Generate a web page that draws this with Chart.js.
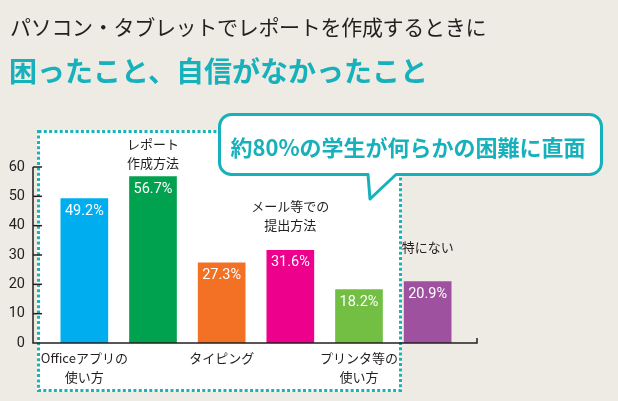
<!DOCTYPE html>
<html><head><meta charset="utf-8">
<script src="https://cdn.jsdelivr.net/npm/chart.js@4"></script>
<style>
html,body{margin:0;padding:0;background:#eeebe4;width:618px;height:401px;overflow:hidden;}
#wrap{position:relative;width:618px;height:401px;}
#c{position:absolute;left:0;top:0;}
.t1{position:absolute;left:10px;top:10px;font-family:"Noto Sans CJK JP";font-weight:400;font-size:21px;line-height:32px;letter-spacing:-0.3px;color:#231f20;white-space:nowrap;}
.t2{position:absolute;left:9px;top:50px;font-family:"Noto Sans CJK JP";font-weight:700;font-size:28px;line-height:40px;color:#17b1bb;white-space:nowrap;}
svg{position:absolute;left:0;top:0;pointer-events:none;}
</style></head>
<body><div id="wrap">
<canvas id="c" width="618" height="401"></canvas>
<div class="t1">パソコン・タブレットでレポートを作成するときに</div>
<div class="t2">困ったこと、自信がなかったこと</div>
<svg width="618" height="401">
<path d="M231.5,114.5 H589.5 A12,12 0 0 1 601.5,126.5 V162.5 A12,12 0 0 1 589.5,174.5 H396 L370,199 L368,174.5 H231.5 A12,12 0 0 1 219.5,162.5 V126.5 A12,12 0 0 1 231.5,114.5 Z" fill="#fff" stroke="#17b1bb" stroke-width="3" stroke-linejoin="round"/>
<text x="408" y="146" text-anchor="middle" dominant-baseline="central" font-family="Noto Sans CJK JP" font-weight="700" font-size="22" fill="#17b1bb">約80%の学生が何らかの困難に直面</text>
</svg>
</div>
<script>
const categories = [['Officeアプリの','使い方'], ['レポート','作成方法'], ['タイピング'], ['メール等での','提出方法'], ['プリンタ等の','使い方'], ['特にない']];
const values = [49.2, 56.7, 27.3, 31.6, 18.2, 20.9];
const yTickValues = [0, 10, 20, 30, 40, 50, 60];

const barColors = ['#00aeef','#00a24f','#f27124','#ec008c','#72bf44','#9e519f'];
const labelSide = ['below','above','below','above','below','above'];
const labelGap = [0, 14, 0, 25, 0, 35];

const deco = {
  id: 'deco',
  beforeDraw(chart) {
    const ctx = chart.ctx;
    ctx.save();
    ctx.fillStyle = '#ffffff';
    ctx.fillRect(37, 130, 365, 262);
    ctx.strokeStyle = '#1ab3b8';
    ctx.lineWidth = 3;
    ctx.setLineDash([3, 2.3]);
    ctx.strokeRect(38.5, 131.5, 362, 259);
    ctx.restore();
  },
  afterDatasetsDraw(chart) {
    const ctx = chart.ctx;
    const y = chart.scales.y;
    const meta = chart.getDatasetMeta(0);
    const ax = 33;
    const y0 = y.getPixelForValue(0), yTop = y.getPixelForValue(y.max);
    ctx.save();
    ctx.strokeStyle = '#231f20';
    ctx.lineWidth = 1.5;
    ctx.beginPath();
    ctx.moveTo(ax, yTop); ctx.lineTo(ax, y0); ctx.lineTo(477, y0); ctx.lineTo(477, y0 - 5);
    ctx.stroke();
    y.ticks.forEach(t => {
      if (t.value === 0) return;
      const py = y.getPixelForValue(t.value);
      ctx.beginPath(); ctx.moveTo(ax, py); ctx.lineTo(ax + 9, py); ctx.stroke();
    });
    ctx.textAlign = 'center';
    ctx.textBaseline = 'middle';
    ctx.font = '400 14.5px Roboto';
    ctx.fillStyle = '#ffffff';
    meta.data.forEach((bar, i) => {
      ctx.fillText(values[i].toFixed(1) + '%', bar.x, bar.y + 12.5);
    });
    ctx.font = '400 13px "Noto Sans CJK JP"';
    ctx.fillStyle = '#231f20';
    meta.data.forEach((bar, i) => {
      const lines = categories[i];
      const n = lines.length;
      lines.forEach((l, k) => {
        if (labelSide[i] === 'below') ctx.fillText(l, bar.x, y0 + 15 + k * 19);
        else ctx.fillText(l, bar.x, bar.y - labelGap[i] - (n - 1 - k) * 19);
      });
    });
    ctx.restore();
  }
};

new Chart(document.getElementById('c'), {
  type: 'bar',
  data: {
    labels: categories.map(c => c.join('')),
    datasets: [{ data: values, backgroundColor: barColors, barThickness: 47 }]
  },
  options: {
    responsive: false,
    devicePixelRatio: 1,
    animation: false,
    layout: { padding: { left: 8, top: 167, right: 156, bottom: 58 } },
    plugins: { legend: { display: false }, tooltip: { enabled: false } },
    scales: {
      x: { display: false, offset: true },
      y: {
        min: 0, max: 60,
        afterFit(s) { s.width = 42; },
        afterBuildTicks(s) { s.ticks = yTickValues.map(v => ({ value: v })); },
        grid: { display: false, drawTicks: false },
        border: { display: false },
        ticks: { padding: 25, color: '#231f20', font: { family: 'Roboto', size: 14.5 } }
      }
    }
  },
  plugins: [deco]
});
</script>
</body></html>
